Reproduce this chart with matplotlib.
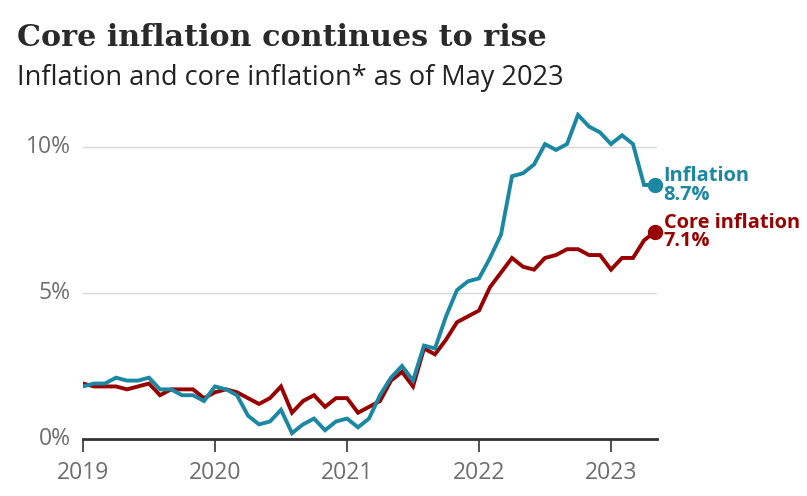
import matplotlib
matplotlib.use("Agg")
import matplotlib.pyplot as plt
import numpy as np

inflation = [1.8, 1.9, 1.9, 2.1, 2.0, 2.0, 2.1, 1.7, 1.7, 1.5, 1.5, 1.3,
             1.8, 1.7, 1.5, 0.8, 0.5, 0.6, 1.0, 0.2, 0.5, 0.7, 0.3, 0.6,
             0.7, 0.4, 0.7, 1.5, 2.1, 2.5, 2.0, 3.2, 3.1, 4.2, 5.1, 5.4,
             5.5, 6.2, 7.0, 9.0, 9.1, 9.4, 10.1, 9.9, 10.1, 11.1, 10.7, 10.5,
             10.1, 10.4, 10.1, 8.7, 8.7]
core = [1.9, 1.8, 1.8, 1.8, 1.7, 1.8, 1.9, 1.5, 1.7, 1.7, 1.7, 1.4,
        1.6, 1.7, 1.6, 1.4, 1.2, 1.4, 1.8, 0.9, 1.3, 1.5, 1.1, 1.4,
        1.4, 0.9, 1.1, 1.3, 2.0, 2.3, 1.8, 3.1, 2.9, 3.4, 4.0, 4.2,
        4.4, 5.2, 5.7, 6.2, 5.9, 5.8, 6.2, 6.3, 6.5, 6.5, 6.3, 6.3,
        5.8, 6.2, 6.2, 6.8, 7.1]
years = [2019, 2020, 2021, 2022, 2023]
yticks = [0, 5, 10]
ytick_labels = ["0%", "5%", "10%"]

t = 2019 + np.arange(len(inflation)) / 12.0

TEAL = "#1a87a3"
RED = "#990000"
GREY = "#6e6e6e"

W, H = 807, 496
fig = plt.figure(figsize=(W / 100, H / 100), dpi=100)
ax = fig.add_axes([83 / W, (H - 439) / H, (657 - 83) / W, (439 - 112) / H])

ax.set_xlim(2019, 2019 + (657 - 83) / 132.0)
ax.set_ylim(0, (439 - 112) / 29.2)

for y in yticks[1:]:
    ax.axhline(y, color="#d9d9d9", lw=1, zorder=0)

ax.plot(t, core, color=RED, lw=2.8, solid_joinstyle="miter", zorder=3)
ax.plot(t, inflation, color=TEAL, lw=2.8, solid_joinstyle="miter", zorder=4)
ax.plot(t[-1], inflation[-1], "o", color=TEAL, ms=10, zorder=5, clip_on=False)
ax.plot(t[-1], core[-1], "o", color=RED, ms=10, zorder=5, clip_on=False)

ax.text(t[-1] + 0.065, inflation[-1] - 0.02, "Inflation\n%.1f%%" % inflation[-1],
        color=TEAL, fontsize=14.4, fontweight="bold", va="center", ha="left",
        linespacing=0.88, family="Open Sans", clip_on=False)
ax.text(t[-1] + 0.065, core[-1] - 0.02, "Core inflation\n%.1f%%" % core[-1],
        color=RED, fontsize=14.4, fontweight="bold", va="center", ha="left",
        linespacing=0.88, family="Open Sans", clip_on=False)

for s in ["top", "right", "left"]:
    ax.spines[s].set_visible(False)
ax.spines["bottom"].set_color("#333333")
ax.spines["bottom"].set_linewidth(2)

ax.set_xticks(years)
ax.set_xticklabels([str(y) for y in years])
ax.set_yticks(yticks)
ax.set_yticklabels(ytick_labels)
ax.tick_params(axis="x", length=9, width=1.2, color="#333333", labelcolor=GREY,
               labelsize=16.5, pad=6.5)
ax.tick_params(axis="y", length=0, labelcolor=GREY, labelsize=16.5, pad=9)
for lab in ax.get_xticklabels() + ax.get_yticklabels():
    lab.set_family("Open Sans")
for lab in ax.get_yticklabels():
    lab.set_verticalalignment("center")

title = fig.text(17 / W, 1 - 37 / H, "Core inflation continues to rise", fontsize=22,
                 family="DejaVu Serif", fontweight="bold", color="#2a2a2a", va="center")
sub = fig.text(17 / W, 1 - 78 / H, "Inflation and core inflation* as of May 2023",
               fontsize=19, family="Open Sans", color="#222222", va="center")

# scale heading texts to the reference widths
r = fig.canvas.get_renderer()
for txt, target in [(title, 528), (sub, 546)]:
    w = txt.get_window_extent(r).width
    txt.set_fontsize(txt.get_fontsize() * target / w)

fig.savefig("out.png", dpi=100)
